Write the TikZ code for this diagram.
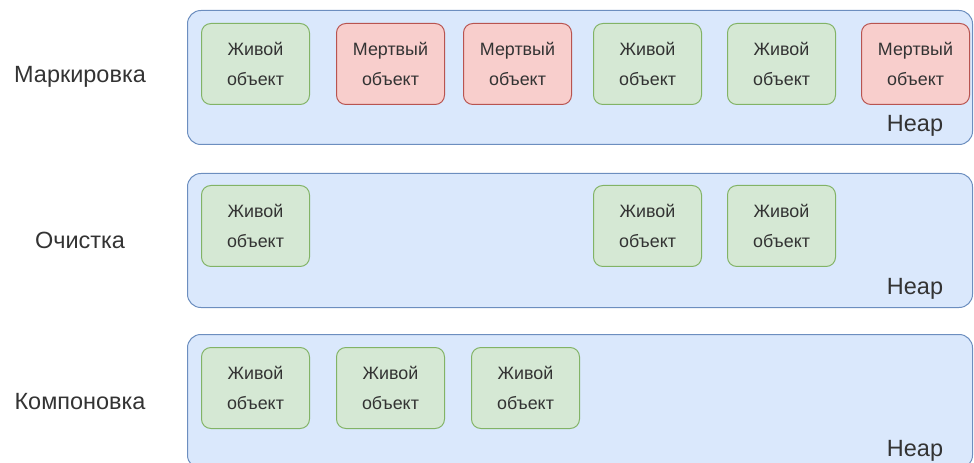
\documentclass[tikz,border=0pt]{standalone}
\usepackage{fontspec}
\setmainfont{Liberation Sans}
\usetikzlibrary{positioning}
\definecolor{heapfill}{HTML}{DAE8FC}
\definecolor{heapline}{HTML}{6C8EBF}
\definecolor{livefill}{HTML}{D5E8D4}
\definecolor{liveline}{HTML}{82B366}
\definecolor{deadfill}{HTML}{F8CECC}
\definecolor{deadline}{HTML}{B85450}
\definecolor{txtgrey}{HTML}{333333}
\tikzset{
  heap/.style={draw=heapline,fill=heapfill,line width=0.75pt,rounded corners=10pt,
               anchor=north west,minimum width=588.75pt,minimum height=100.5pt,
               inner sep=0pt},
  obj/.style={line width=0.75pt,rounded corners=7pt,anchor=north west,
              minimum width=81pt,minimum height=60.75pt,inner sep=0pt,align=center,
              text=txtgrey,font=\fontsize{13.4}{22.5}\selectfont},
  live/.style={obj,draw=liveline,fill=livefill},
  dead/.style={obj,draw=deadline,fill=deadfill},
  phase/.style={text=txtgrey,font=\fontsize{17.6}{21}\selectfont},
  heaplbl/.style={text=txtgrey,font=\fontsize{17.6}{21}\selectfont,anchor=base},
}

\begin{document}
\begin{tikzpicture}[x=0.75pt,y=-0.75pt]
  \useasboundingbox (0,0) rectangle (974,463);
  \begin{scope}
  \clip (0,0) rectangle (974,463);

  % ---- marking ----
  \node[heap] (heapA) at (187,10) {};
  \node[heaplbl] (heapAlbl) at (915,132) {Heap};
  \node[phase] (mark) at (80,77) {Маркировка};
  \foreach \x/\k/\w [count=\i] in {201/live/Живой,336/dead/Мертвый,463/dead/Мертвый,
                                   593/live/Живой,727/live/Живой,861/dead/Мертвый}{
    \node[\k] (a\i) at (\x,23) {\w\\объект};
  }

  % ---- sweeping ----
  \node[heap] (heapB) at (187,173) {};
  \node[heaplbl] (heapBlbl) at (915,295) {Heap};
  \node[phase] (sweep) at (80,240) {Очистка};
  \foreach \x [count=\i] in {201,593,727}{
    \node[live] (b\i) at (\x,185) {Живой\\объект};
  }

  % ---- compaction ----
  \node[heap] (heapC) at (187,334) {};
  \node[heaplbl] (heapClbl) at (915,456) {Heap};
  \node[phase] (compact) at (80,402) {Компоновка};
  \foreach \x [count=\i] in {201,336,471}{
    \node[live] (c\i) at (\x,347) {Живой\\объект};
  }
  \end{scope}
\end{tikzpicture}
\end{document}
